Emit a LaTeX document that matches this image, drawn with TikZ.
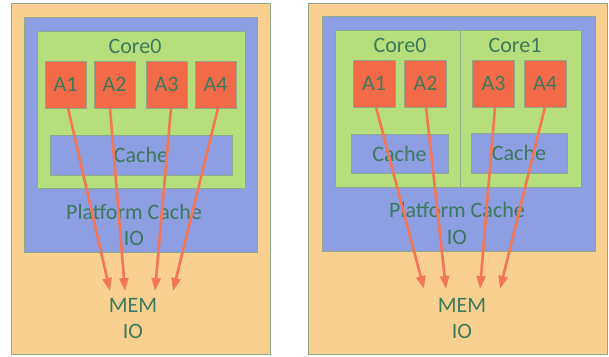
\documentclass[tikz,border=0pt]{standalone}
\usepackage{fontspec}
\setmainfont{Carlito}
\usetikzlibrary{arrows.meta,calc}
\definecolor{bgor}{HTML}{F9D08F}
\definecolor{plblue}{HTML}{8D9EE2}
\definecolor{cgreen}{HTML}{B6DE7C}
\definecolor{ared}{HTML}{F36A48}
\definecolor{txt}{HTML}{3B7A5C}
\definecolor{arr}{HTML}{F47655}
\definecolor{edge}{HTML}{8FA88A}
\begin{document}
\begin{tikzpicture}[x=1pt,y=-1pt,
  box/.style={draw=edge,line width=0.6pt},
  abox/.style={box,fill=ared,text=txt,font=\fontsize{22}{24}\selectfont},
  lbl/.style={text=txt,font=\fontsize{22}{24}\selectfont,inner sep=0pt},
  flow/.style={draw=arr,line width=2.6pt,-{Triangle[length=13pt,width=9pt]}}]
\useasboundingbox (0,0) rectangle (609,356);
\fill[white] (0,0) rectangle (609,356);
% ---------- left panel ----------
\draw[box,fill=bgor] (11,3) rectangle (270,354);
\draw[box,fill=plblue] (24,17) rectangle (257,252);
\draw[box,fill=cgreen] (37,31) rectangle (245,188);
\node[lbl] (Lcore) at (135,46) {Core0};
\node[abox,minimum width=41pt,minimum height=47pt,inner sep=0pt] (LA1) at (65.5,84.5) {A1};
\node[abox,minimum width=41pt,minimum height=47pt,inner sep=0pt] (LA2) at (114.5,84.5) {A2};
\node[abox,minimum width=41pt,minimum height=47pt,inner sep=0pt] (LA3) at (166.5,84.5) {A3};
\node[abox,minimum width=41pt,minimum height=47pt,inner sep=0pt] (LA4) at (215.5,84.5) {A4};
\node[box,fill=plblue,minimum width=182pt,minimum height=40pt,inner sep=0pt] (Lcache) at (141,155) {};
\node[lbl] at (Lcache.center) {Cache};
\node[lbl] (Lplat) at (134,212) {Platform Cache};
\node[lbl] (Lio) at (134,238) {IO};
\node[lbl] (Lmem) at (133,305) {MEM};
\node[lbl] (Lmio) at (133,331) {IO};
\coordinate (Ls1) at (68,108);
\coordinate (Ls2) at (110,108);
\coordinate (Ls3) at (171,108);
\coordinate (Ls4) at (218,108);
\coordinate (Le1) at (110,291);
\coordinate (Le2) at (125,291);
\coordinate (Le3) at (155,291);
\coordinate (Le4) at (173,291);
\draw[flow] (Ls1) -- (Le1);
\draw[flow] (Ls2) -- (Le2);
\draw[flow] (Ls3) -- (Le3);
\draw[flow] (Ls4) -- (Le4);
% ---------- right panel ----------
\draw[box,fill=bgor] (308,3) rectangle (607,354);
\draw[box,fill=plblue] (322,16) rectangle (595,251);
\draw[box,fill=cgreen] (335,30) rectangle (581,187);
\draw[edge,line width=0.6pt] (460,30) -- (460,187);
\node[lbl] (Rcore0) at (400,45) {Core0};
\node[lbl] (Rcore1) at (515,45) {Core1};
\node[abox,minimum width=42pt,minimum height=47pt,inner sep=0pt] (RA1) at (374,83.5) {A1};
\node[abox,minimum width=42pt,minimum height=47pt,inner sep=0pt] (RA2) at (425.5,83.5) {A2};
\node[abox,minimum width=42pt,minimum height=47pt,inner sep=0pt] (RA3) at (493.5,83.5) {A3};
\node[abox,minimum width=42pt,minimum height=47pt,inner sep=0pt] (RA4) at (545,83.5) {A4};
\node[box,fill=plblue,minimum width=97pt,minimum height=39pt,inner sep=0pt] (Rcache0) at (399.5,153.5) {};
\node[lbl] at (Rcache0.center) {Cache};
\node[box,fill=plblue,minimum width=96pt,minimum height=40pt,inner sep=0pt] (Rcache1) at (519,153) {};
\node[lbl] at (Rcache1.center) {Cache};
\node[lbl] (Rplat) at (457,210) {Platform Cache};
\node[lbl] (Rio) at (457,237) {IO};
\node[lbl] (Rmem) at (462,305) {MEM};
\node[lbl] (Rmio) at (462,331) {IO};
\coordinate (Rs1) at (376,107);
\coordinate (Rs2) at (426,107);
\coordinate (Rs3) at (495,107);
\coordinate (Rs4) at (545,107);
\coordinate (Re1) at (424,289);
\coordinate (Re2) at (446,289);
\coordinate (Re3) at (480,289);
\coordinate (Re4) at (500,289);
\draw[flow] (Rs1) -- (Re1);
\draw[flow] (Rs2) -- (Re2);
\draw[flow] (Rs3) -- (Re3);
\draw[flow] (Rs4) -- (Re4);
\end{tikzpicture}
\end{document}
